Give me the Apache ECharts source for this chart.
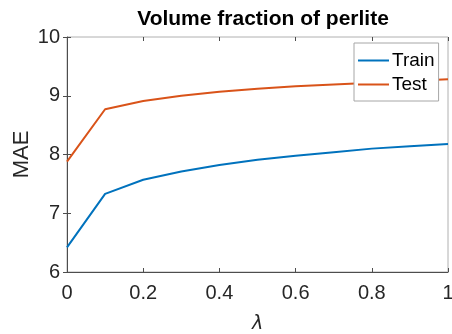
<!DOCTYPE html>
<html>
<head>
<meta charset="utf-8">
<script src="https://cdn.jsdelivr.net/npm/echarts@6/dist/echarts.min.js"></script>
<style>
  html, body { margin: 0; padding: 0; background: #fff; }
  #main { width: 452px; height: 334px; }
</style>
</head>
<body>
<div id="main"></div>
<script>
// lambda values and MAE
var lambdas = [0, 0.1, 0.2, 0.3, 0.4, 0.5, 0.6, 0.7, 0.8, 0.9, 1.0];
var trainMAE = [6.42, 7.33, 7.57, 7.71, 7.82, 7.91, 7.98, 8.04, 8.10, 8.14, 8.18];
var testMAE = [7.88, 8.77, 8.91, 9.00, 9.07, 9.12, 9.16, 9.19, 9.22, 9.25, 9.28];
var xTicks = [0, 0.2, 0.4, 0.6, 0.8, 1];
var yTicks = [6, 7, 8, 9, 10];

function pairs(xs, ys) {
  var out = [];
  for (var i = 0; i < xs.length; i++) out.push([xs[i], ys[i]]);
  return out;
}

var font = 'Liberation Sans, Arial, sans-serif';
var axisGray = '#4d4d4d';

var myChart = echarts.init(document.getElementById('main'));
myChart.setOption({
  animation: false,
  title: {
    text: 'Volume fraction of perlite',
    left: 258, top: 4, textAlign: 'center',
    textStyle: { fontFamily: font, fontSize: 21, fontWeight: 'bold', color: '#000' }
  },
  grid: { left: 67, right: 4, top: 37, bottom: 62, outerBoundsMode: 'none', containLabel: false,
    show: true, borderColor: '#b0b0b0', borderWidth: 1 },
  legend: {
    orient: 'vertical',
    left: 354, top: 43,
    icon: 'rect',
    itemWidth: 31, itemHeight: 2, itemGap: 5,
    padding: [8, 4, 7, 4],
    backgroundColor: '#fff',
    borderColor: '#a6a6a6', borderWidth: 1,
    textStyle: { fontFamily: font, fontSize: 19, color: '#000', padding: [0, 0, 0, -2] },
    data: ['Train', 'Test']
  },
  xAxis: [{
    type: 'value', min: 0, max: 1, interval: 0.2,
    name: 'λ', nameLocation: 'middle', nameGap: 43, nameMoveOverlap: false,
    nameTextStyle: { fontFamily: 'DejaVu Sans, sans-serif', fontStyle: 'italic', fontSize: 19, color: '#262626' },
    axisLine: { show: true, lineStyle: { color: axisGray } },
    axisTick: { inside: true, length: 4, lineStyle: { color: axisGray } },
    axisLabel: { fontFamily: font, fontSize: 20, color: '#262626', margin: 11,
      formatter: function (v) { var r = Math.round(v * 10) / 10; return xTicks.indexOf(r) >= 0 ? String(r) : ''; } },
    splitLine: { show: false }
  }, {
    type: 'value', min: 0, max: 1, interval: 0.2, position: 'top',
    axisLine: { show: false },
    axisTick: { inside: true, length: 4, lineStyle: { color: axisGray } },
    axisLabel: { show: false }, splitLine: { show: false }
  }],
  yAxis: [{
    type: 'value', min: yTicks[0], max: yTicks[yTicks.length - 1], interval: 1,
    name: 'MAE', nameLocation: 'middle', nameGap: 34, nameRotate: 90, nameMoveOverlap: false,
    nameTextStyle: { fontFamily: font, fontSize: 22, color: '#262626' },
    axisLine: { show: true, lineStyle: { color: axisGray } },
    axisTick: { inside: true, length: 4, lineStyle: { color: axisGray } },
    axisLabel: { fontFamily: font, fontSize: 20, color: '#262626', margin: 7 },
    splitLine: { show: false }
  }, {
    type: 'value', min: yTicks[0], max: yTicks[yTicks.length - 1], interval: 1, position: 'right',
    axisLine: { show: false },
    axisTick: { inside: true, length: 4, lineStyle: { color: axisGray } },
    axisLabel: { show: false }, splitLine: { show: false }
  }],
  series: [{
    name: 'Train', type: 'line', symbol: 'none',
    data: pairs(lambdas, trainMAE),
    lineStyle: { color: '#0072BD', width: 2 }, itemStyle: { color: '#0072BD' }
  }, {
    name: 'Test', type: 'line', symbol: 'none',
    data: pairs(lambdas, testMAE),
    lineStyle: { color: '#D95319', width: 2 }, itemStyle: { color: '#D95319' }
  }]
});
</script>
</body>
</html>
